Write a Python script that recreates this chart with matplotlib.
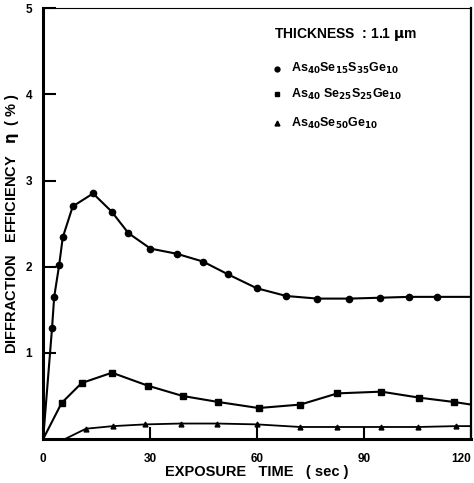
import numpy as np
import matplotlib.pyplot as plt

# Data (time in sec, efficiency in %)
circle_x = [0, 2.5, 3.1, 4.5, 5.5, 8.3, 14.0, 19.2, 23.9, 30.1, 37.5, 44.8, 51.9,
            59.9, 68.2, 76.9, 85.8, 94.4, 102.5, 110.3, 120]
circle_y = [0, 1.29, 1.65, 2.02, 2.34, 2.70, 2.85, 2.64, 2.39, 2.21, 2.15, 2.06, 1.91,
            1.75, 1.66, 1.63, 1.63, 1.64, 1.65, 1.65, 1.65]

square_x = [0, 5.2, 10.8, 19.3, 29.3, 39.1, 49.1, 60.4, 72.1, 82.5, 94.8, 105.5, 115.2, 120]
square_y = [0, 0.42, 0.65, 0.77, 0.62, 0.50, 0.43, 0.36, 0.40, 0.53, 0.55, 0.48, 0.43, 0.40]

tri_x = [6.1, 12.0, 19.6, 28.6, 38.6, 48.8, 60.0, 72.1, 82.3, 94.6, 105.2, 115.7, 120]
tri_y = [0, 0.12, 0.15, 0.17, 0.18, 0.18, 0.17, 0.14, 0.14, 0.14, 0.14, 0.15, 0.15]

legend_labels = [r'As$_{40}$Se$_{15}$S$_{35}$Ge$_{10}$',
                 r'As$_{40}$ Se$_{25}$S$_{25}$Ge$_{10}$',
                 r'As$_{40}$Se$_{50}$Ge$_{10}$']

plt.rcParams['font.family'] = ['Liberation Sans', 'DejaVu Sans']
plt.rcParams['font.weight'] = 'bold'
plt.rcParams['mathtext.default'] = 'bf'

fig = plt.figure(figsize=(4.74, 4.83), dpi=100)
ax = fig.add_axes([0.091, 0.091, 0.903, 0.892])

ax.plot(circle_x, circle_y, 'k-', lw=1.5, marker='o', ms=4.5, markevery=list(range(1, len(circle_x) - 1)))
ax.plot(square_x, square_y, 'k-', lw=1.5, marker='s', ms=4.5, markevery=list(range(1, len(square_x) - 1)))
ax.plot(tri_x, tri_y, 'k-', lw=1.3, marker='^', ms=3.5, markevery=list(range(1, len(tri_x) - 1)))

ax.set_xlim(0, 120)
ax.set_ylim(0, 5)
ax.set_xticks([0, 30, 60, 90, 120])
ax.set_yticks([1, 2, 3, 4, 5])
ax.tick_params(direction='in', length=9, width=1.5, labelsize=8.5)
ax.tick_params(axis='y', pad=8)
ax.tick_params(axis='x', pad=10)
xl = ax.get_xticklabels()
xl[-1].set_horizontalalignment('right')
xl[-1].set_x(1.0)

for s in ['left', 'bottom']:
    ax.spines[s].set_linewidth(2.2)
ax.spines['right'].set_linewidth(1.6)
ax.spines['top'].set_linewidth(0.8)

ax.set_xlabel('EXPOSURE   TIME   ( sec )', fontsize=10.5, fontweight='bold', labelpad=0)
ax.set_ylabel(r'DIFFRACTION   EFFICIENCY   $\eta$  ( % )', fontsize=10.5, fontweight='bold', labelpad=3)

# legend block
ax.text(0.54, 0.94, r'THICKNESS  : 1.1 $\mu$m', transform=ax.transAxes, fontsize=10, va='center')
markers = ['o', 's', '^']
rows = [0.86, 0.80, 0.733]
for m, lab, yy in zip(markers, legend_labels, rows):
    ax.plot([0.547], [yy], 'k', marker=m, ms=3.5, transform=ax.transAxes)
    ax.text(0.578, yy, lab, transform=ax.transAxes, fontsize=9, va='center')

fig.savefig('out.png', dpi=100)
